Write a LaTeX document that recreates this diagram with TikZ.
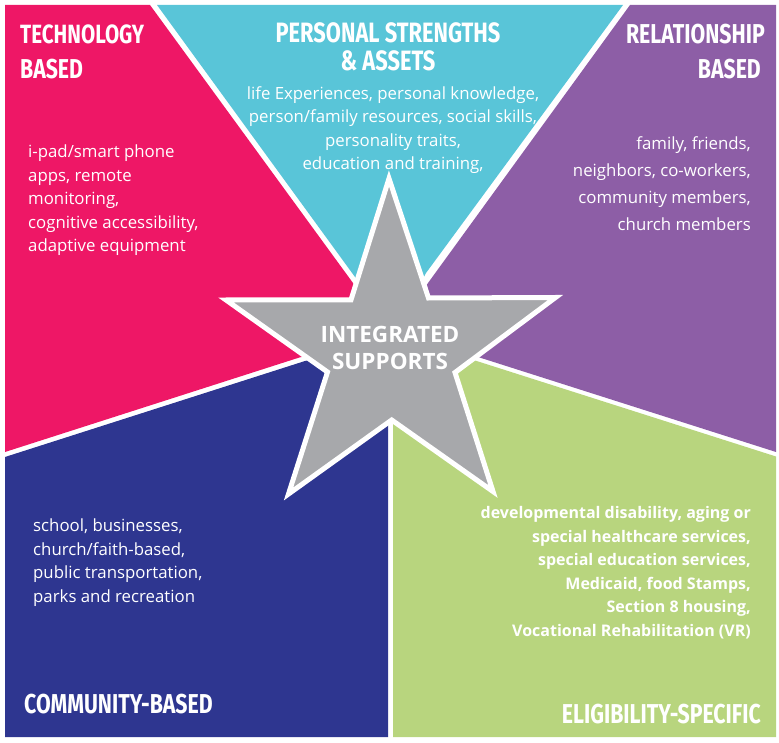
\documentclass[tikz,border=0pt]{standalone}
\usepackage{xcolor}
\usepackage{fontspec}
\setmainfont{Open Sans}
\newfontfamily\headfont[FakeStretch=.78]{Fira Sans}
\definecolor{techpink}{HTML}{EE1766}
\definecolor{persteal}{HTML}{59C5D8}
\definecolor{relpurple}{HTML}{8D5EA6}
\definecolor{eliggreen}{HTML}{B8D57E}
\definecolor{commblue}{HTML}{2E3690}
\definecolor{stargray}{HTML}{A7A8AB}
\tikzset{
  head/.style={text=white,inner sep=0,font=\headfont\bfseries\fontsize{27.3}{28}\selectfont},
  body/.style={text=white,inner sep=0,font=\fontsize{16.8}{23.5}\selectfont},
}

\begin{document}
\begin{tikzpicture}[x=1pt,y=-1pt]
  \useasboundingbox (0,0) rectangle (779,743);

  \fill[techpink] (5,5) -- (150,5) -- (353,283) -- (390,340) -- (300,357.3) -- (5,452) -- cycle;
  \fill[persteal] (157,5) -- (623,5) -- (426,273) -- (390,340) -- (355,277) -- cycle;
  \fill[relpurple] (630,5) -- (776,5) -- (776,452) -- (478,357) -- (390,340) -- (428,283) -- cycle;
  \fill[eliggreen] (393,420) -- (390,340) -- (473.5,360) -- (776,456.5) -- (776,737) -- (393,737) -- cycle;
  \fill[commblue] (5,457) -- (305,361) -- (390,340) -- (388,420) -- (388,737) -- (5,737) -- cycle;

  \draw[white,line width=5pt,fill=stargray,miter limit=10]
    (389,178.5) -- (351,299.8) -- (226,300) -- (327.5,372) -- (288.5,494)
    -- (391.7,420) -- (493,491.5) -- (455,372.5) -- (555.5,297.5) -- (428.5,298) -- cycle;

  \node (tb) [head,anchor=base west,font=\headfont\bfseries\fontsize{26.4}{28}\selectfont] at (20,44) {TECHNOLOGY};
  \node (tbb) [head,anchor=base west] at (20,79) {BASED};
  \node (ps) [head,anchor=base,align=center,font=\headfont\bfseries\fontsize{28}{28}\selectfont] at (388,71) {PERSONAL STRENGTHS\\\& ASSETS};
  \node (rb) [head,anchor=base east] at (765,44) {RELATIONSHIP};
  \node (rbb) [head,anchor=base east] at (761,79) {BASED};
  \node (cb) [head,anchor=base west] at (24,713) {COMMUNITY-BASED};
  \node (es) [head,anchor=base east] at (761,723) {ELIGIBILITY-SPECIFIC};

  \node (tbt) [body,anchor=base west,align=left] at (28,252)
    {i-pad/smart phone\\apps, remote\\monitoring,\\cognitive accessibility,\\adaptive equipment};
  \node (pst) [body,anchor=base,align=center] at (393,170)
    {life Experiences, personal knowledge,\\person/family resources, social skills,\\personality traits,\\education and training,};
  \node (rbt) [body,anchor=base east,align=right,font=\fontsize{16.8}{27}\selectfont] at (751,231)
    {family, friends,\\neighbors, co-workers,\\community members,\\church members};
  \node (cbt) [body,anchor=base west,align=left] at (33,602)
    {school, businesses,\\church/faith-based,\\public transportation,\\parks and recreation};
  \node (est) [body,anchor=base east,align=right,font=\bfseries\fontsize{16}{23.5}\selectfont] at (751,636)
    {developmental disability, aging or\\special healthcare services,\\special education services,\\Medicaid, food Stamps,\\Section 8 housing,\\Vocational Rehabilitation (VR)};

  \node (star) [text=white,inner sep=0,anchor=base,align=center,font=\bfseries\fontsize{22.5}{27}\selectfont] at (390,369)
    {INTEGRATED\\SUPPORTS};
\end{tikzpicture}
\end{document}
